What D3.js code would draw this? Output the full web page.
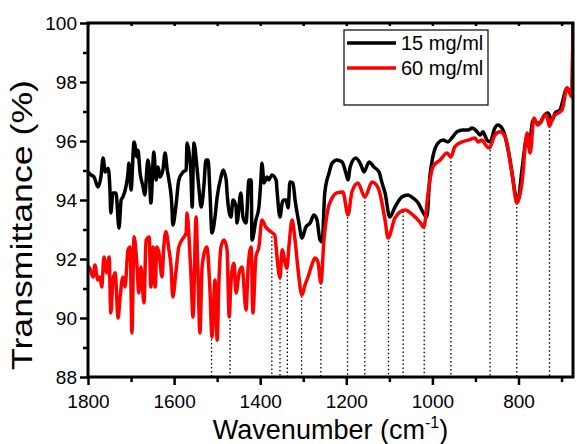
<!DOCTYPE html>
<html>
<head>
<meta charset="utf-8">
<script src="https://cdn.jsdelivr.net/npm/d3@7"></script>
<style>
  body { margin: 0; background: #fff; }
  text { font-family: Arial, 'Liberation Sans', sans-serif; fill: #000; }
</style>
</head>
<body>
<script>
  // wavenumber (cm-1), transmittance (%)
  const black15 = [
    [1800, 94.95], [1793, 94.85], [1786, 94.78], [1777, 94.44], [1770, 94.78], [1765, 95.42],
    [1760, 94.95], [1753, 95.08], [1749, 94.34], [1747, 93.56], [1742, 94.24], [1735, 94.24],
    [1728, 93.05], [1723, 94.0], [1719, 94.1], [1712, 94.44], [1707, 94.92], [1705, 95.25],
    [1700, 94.34], [1693, 95.97], [1686, 95.46], [1684, 95.69], [1679, 94.92], [1672, 94.44],
    [1668, 94.17], [1661, 95.36], [1658, 95.12], [1654, 93.9], [1647, 95.63], [1642, 94.68],
    [1637, 95.12], [1633, 94.78], [1626, 95.02], [1621, 95.59], [1616, 95.02], [1612, 94.68],
    [1605, 93.76], [1603, 93.15], [1596, 93.76], [1589, 94.68], [1579, 94.95], [1572, 95.02],
    [1570, 95.93], [1565, 95.59], [1561, 94.92], [1558, 93.76], [1554, 95.93], [1547, 95.12],
    [1542, 94.34], [1537, 93.76], [1531, 94.44], [1526, 95.36], [1521, 95.36], [1517, 94.34],
    [1512, 92.88], [1505, 93.42], [1500, 94.1], [1491, 94.78], [1486, 95.02], [1479, 94.68],
    [1477, 94.24], [1468, 93.42], [1463, 94.0], [1456, 93.76], [1454, 93.22], [1445, 94.24],
    [1440, 93.42], [1433, 93.22], [1426, 94.68], [1421, 94.68], [1419, 92.64], [1410, 93.32],
    [1403, 93.76], [1398, 94.78], [1396, 95.25], [1391, 94.58], [1384, 94.78], [1380, 94.68],
    [1373, 94.85], [1363, 94.68], [1361, 94.34], [1354, 93.42], [1349, 93.9], [1345, 94.0],
    [1340, 94.0], [1335, 93.73], [1331, 94.61], [1324, 94.58], [1319, 94.0], [1310, 93.22],
    [1303, 92.71], [1294, 93.08], [1284, 93.22], [1275, 93.49], [1268, 93.32], [1261, 92.64],
    [1256, 92.58], [1250, 94.24], [1240, 94.92], [1233, 95.25], [1222, 95.36], [1210, 95.29],
    [1201, 94.92], [1196, 94.68], [1191, 95.12], [1178, 95.42], [1166, 95.19], [1159, 94.95],
    [1147, 95.29], [1136, 95.12], [1124, 94.95], [1117, 94.58], [1110, 94.24], [1099, 93.42],
    [1087, 93.76], [1071, 94.1], [1057, 94.17], [1045, 94.07], [1033, 93.9], [1022, 93.59],
    [1013, 93.42], [1006, 94.78], [999, 95.46], [987, 95.93], [975, 96.03], [964, 95.97],
    [955, 96.1], [943, 96.31], [929, 96.37], [917, 96.37], [908, 96.44], [896, 96.31],
    [889, 96.2], [883, 96.31], [873, 96.03], [866, 95.97], [855, 96.44], [848, 96.54],
    [836, 96.37], [824, 95.69], [815, 94.92], [808, 94.24], [801, 94.0], [792, 95.02],
    [780, 96.14], [776, 95.8], [766, 96.71], [757, 96.61], [750, 96.61], [743, 96.81],
    [732, 96.95], [722, 96.71], [715, 96.95], [704, 97.05], [687, 97.8], [676, 97.56], [673.4, 100]
  ];

  const red60 = [
    [1800, 91.63], [1798, 91.73], [1788, 91.39], [1784, 91.8], [1777, 91.29], [1772, 91.39],
    [1768, 91.05], [1763, 92.07], [1756, 91.53], [1751, 92.07], [1747, 90.17], [1742, 91.29],
    [1737, 91.53], [1730, 90.0], [1726, 90.61], [1719, 91.39], [1714, 91.05], [1707, 92.31],
    [1702, 92.41], [1698, 89.49], [1693, 92.75], [1686, 91.73], [1682, 90.85], [1677, 91.73],
    [1670, 90.51], [1665, 92.64], [1658, 92.75], [1654, 91.05], [1649, 92.41], [1644, 91.05],
    [1640, 92.41], [1635, 92.2], [1628, 91.39], [1624, 92.41], [1619, 92.92], [1612, 92.31],
    [1607, 91.73], [1603, 90.71], [1596, 91.53], [1589, 92.41], [1579, 92.71], [1572, 92.88],
    [1570, 93.56], [1565, 92.64], [1561, 91.53], [1556, 90.03], [1549, 93.42], [1545, 91.73],
    [1540, 89.49], [1535, 91.73], [1528, 92.31], [1524, 92.41], [1517, 91.05], [1512, 89.36],
    [1505, 91.29], [1500, 89.25], [1496, 91.19], [1491, 92.41], [1484, 92.64], [1477, 92.31],
    [1472, 90.03], [1468, 91.19], [1461, 91.86], [1456, 90.85], [1449, 91.53], [1442, 91.73],
    [1433, 90.27], [1428, 91.73], [1421, 92.41], [1417, 90.17], [1410, 92.07], [1403, 92.41],
    [1396, 93.32], [1387, 93.08], [1380, 92.98], [1373, 92.9], [1366, 92.8], [1361, 92.07],
    [1354, 91.36], [1349, 92.31], [1342, 91.86], [1338, 91.69], [1333, 92.47], [1326, 93.32],
    [1319, 92.64], [1312, 91.63], [1303, 90.78], [1296, 91.12], [1289, 91.39], [1280, 91.8],
    [1273, 92.03], [1266, 91.9], [1259, 91.19], [1252, 92.64], [1243, 93.66], [1233, 94.07],
    [1222, 94.24], [1208, 94.27], [1196, 93.49], [1187, 94.27], [1173, 94.58], [1157, 94.1],
    [1140, 94.61], [1126, 94.41], [1110, 93.32], [1103, 92.71], [1087, 93.39], [1064, 93.66],
    [1045, 93.49], [1029, 93.25], [1020, 93.08], [1010, 94.24], [999, 95.12], [982, 95.36],
    [966, 95.59], [957, 95.46], [948, 95.8], [931, 95.97], [917, 96.03], [901, 96.1],
    [894, 95.97], [885, 96.03], [876, 95.86], [868, 95.76], [855, 96.2], [843, 96.31],
    [831, 96.14], [820, 95.36], [813, 94.68], [804, 93.9], [792, 94.58], [780, 96.27],
    [773, 95.59], [764, 96.78], [755, 96.54], [743, 96.78], [735, 96.9], [728, 96.5],
    [720, 96.8], [715, 96.88], [699, 97.05], [687, 97.8], [676, 97.49], [673.4, 100]
  ];

  // band positions marked with dotted drop lines
  const bands = [1513, 1470, 1373, 1354, 1337, 1304, 1259, 1197, 1157, 1102, 1068, 1019, 957, 866, 804, 728];

  const xMajor = [1800, 1600, 1400, 1200, 1000, 800];
  const xMinor = [1700, 1500, 1300, 1100, 900, 700];
  const yMajor = [88, 90, 92, 94, 96, 98, 100];
  const yMinor = [89, 91, 93, 95, 97, 99];

  const seriesNames = ['15 mg/ml', '60 mg/ml'];
  const seriesColors = ['#000000', '#ff0000'];

  const width = 577;
  const height = 444;
  const margin = { top: 23, right: 4, bottom: 67, left: 88 };

  const svg = d3.select('body')
          .append('svg')
          .attr('width', width)
          .attr('height', height);

  const x = d3.scaleLinear()
          .domain([1800, 673.4])
          .range([margin.left, width - margin.right]);

  const y = d3.scaleLinear()
          .domain([88, 100])
          .range([height - margin.bottom, margin.top]);

  svg.append('clipPath')
          .attr('id', 'plot')
          .append('rect')
          .attr('x', margin.left)
          .attr('y', margin.top - 2)
          .attr('width', width - margin.left - margin.right)
          .attr('height', height - margin.top - margin.bottom + 2);

  // dotted drop lines from the red curve to the axis
  const sortedRed = red60.slice().sort((a, b) => a[0] - b[0]);
  const redAt = d3.scaleLinear()
          .domain(sortedRed.map(d => d[0]))
          .range(sortedRed.map(d => d[1]));

  svg.append('g')
          .selectAll('line')
          .data(bands)
          .enter()
          .append('line')
          .attr('x1', d => x(d))
          .attr('x2', d => x(d))
          .attr('y1', d => y(redAt(d)))
          .attr('y2', y(88))
          .attr('stroke', '#000')
          .attr('stroke-width', 1.3)
          .attr('stroke-dasharray', '1.5,2.5');

  const line = d3.line()
          .x(d => x(d[0]))
          .y(d => y(d[1]))
          .curve(d3.curveMonotoneX);

  const lines = svg.append('g').attr('clip-path', 'url(#plot)');
  [black15, red60].forEach((s, i) => {
    lines.append('path')
            .datum(s)
            .attr('d', line)
            .attr('fill', 'none')
            .attr('stroke', seriesColors[i])
            .attr('stroke-width', 3.5)
            .attr('stroke-linejoin', 'round');
  });

  // axes
  const xAxis = svg.append('g')
          .attr('transform', `translate(0,${y(88)})`)
          .call(d3.axisBottom(x).tickValues(xMajor).tickSize(8).tickPadding(10).tickFormat(d3.format('d')));
  svg.append('g')
          .attr('transform', `translate(0,${y(88)})`)
          .call(d3.axisBottom(x).tickValues(xMinor).tickSize(5).tickFormat(''));

  const yAxis = svg.append('g')
          .attr('transform', `translate(${margin.left},0)`)
          .call(d3.axisLeft(y).tickValues(yMajor).tickSize(8).tickPadding(3));
  svg.append('g')
          .attr('transform', `translate(${margin.left},0)`)
          .call(d3.axisLeft(y).tickValues(yMinor).tickSize(5).tickFormat(''));

  svg.append('g')
          .attr('transform', `translate(0,${y(100)})`)
          .call(d3.axisBottom(x).tickValues(xMajor.concat(xMinor)).tickSize(3).tickFormat(''));

  svg.selectAll('.domain').remove();
  svg.selectAll('.tick line').attr('stroke', '#000').attr('stroke-width', 2.5);
  xAxis.selectAll('text').attr('font-size', '19px');
  yAxis.selectAll('text').attr('font-size', '19px');

  svg.append('rect')
          .attr('x', x(1800))
          .attr('y', y(100))
          .attr('width', x(673.4) - x(1800))
          .attr('height', y(88) - y(100))
          .attr('fill', 'none')
          .attr('stroke', '#000')
          .attr('stroke-width', 3);

  // axis titles
  const xTitle = svg.append('text')
          .attr('x', (x(1800) + x(673.4)) / 2)
          .attr('y', 439)
          .attr('text-anchor', 'middle')
          .attr('font-size', '27px');
  xTitle.append('tspan').text('Wavenumber (cm');
  xTitle.append('tspan').attr('font-size', '16px').attr('dy', -11).text('-1');
  xTitle.append('tspan').attr('dy', 11).text(')');

  svg.append('text')
          .attr('transform', 'translate(32,225) rotate(-90)')
          .attr('text-anchor', 'middle')
          .attr('font-size', '30px')
          .attr('textLength', 290)
          .attr('lengthAdjust', 'spacingAndGlyphs')
          .text('Transmittance (%)');

  // legend
  const legend = svg.append('g');
  legend.append('rect')
          .attr('x', 344)
          .attr('y', 30)
          .attr('width', 144)
          .attr('height', 75)
          .attr('fill', '#fff')
          .attr('stroke', '#000')
          .attr('stroke-width', 1.2);

  seriesNames.forEach((name, i) => {
    legend.append('line')
            .attr('x1', 347)
            .attr('x2', 396)
            .attr('y1', 43 + i * 25)
            .attr('y2', 43 + i * 25)
            .attr('stroke', seriesColors[i])
            .attr('stroke-width', 3.5);
    legend.append('text')
            .attr('x', 401)
            .attr('y', 50 + i * 25)
            .attr('font-size', '20px')
            .text(name);
  });
</script>
</body>
</html>
